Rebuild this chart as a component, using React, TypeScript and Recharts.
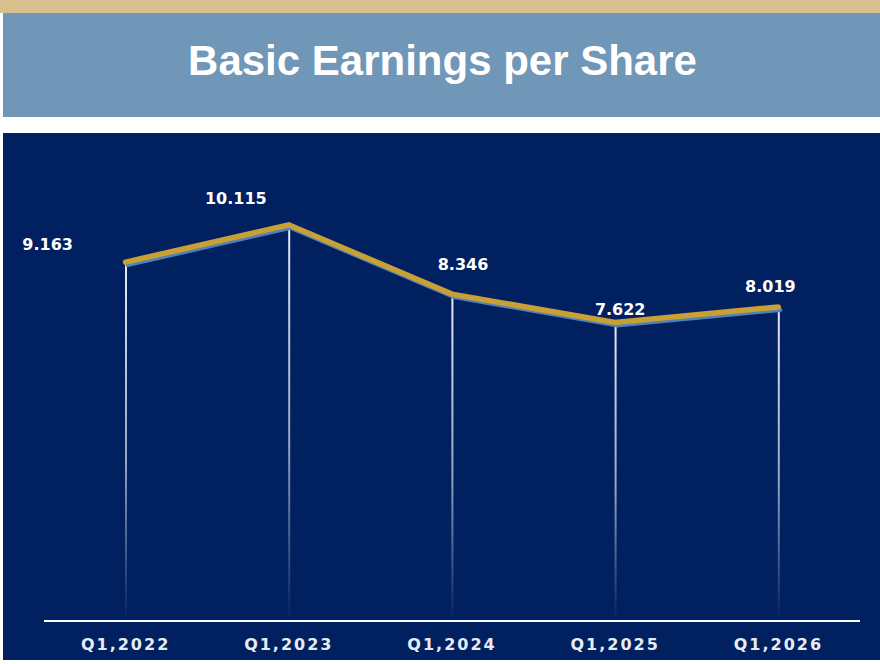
import { Bar, ComposedChart, LabelList, Line, XAxis, YAxis } from "recharts";

// EPS by first quarter
const QUARTERS = ["Q1,2022", "Q1,2023", "Q1,2024", "Q1,2025", "Q1,2026"];
const EPS = [9.163, 10.115, 8.346, 7.622, 8.019];

const data = QUARTERS.map((q, i) => ({ quarter: q, eps: EPS[i] }));

// label nudges relative to each point (the slide places them by hand)
const LABEL_NUDGE = [
  [-78, -18],
  [-53, -26],
  [11, -30],
  [5, -13],
  [-8, -20],
];

const NAVY = "#002060";
const GOLD = "#C9A033";
const BLUE = "#4F81BD";

function PointLabel(props: any) {
  const { x, y, index, value } = props;
  const [dx, dy] = LABEL_NUDGE[index] ?? [0, -16];
  return (
    <text
      x={x + dx}
      y={y + dy}
      textAnchor="middle"
      dominantBaseline="central"
      fill="#FFFFFF"
      fontFamily="'DejaVu Sans', Verdana, sans-serif"
      fontWeight="bold"
      fontSize={16}
    >
      {Number(value).toFixed(3)}
    </text>
  );
}

export default function App() {
  return (
    <div style={{ position: "relative", width: 880, height: 664, background: "#fff" }}>
      <style>{`body{margin:0} .eps-shadow .recharts-curve{transform:translate(2px,3px)}`}</style>
      <div style={{ position: "absolute", left: 0, top: 0, width: 880, height: 13, background: "#D7C08D" }} />
      <div
        style={{
          position: "absolute",
          left: 3,
          top: 13,
          width: 877,
          height: 104,
          background: "#7096B8",
          display: "flex",
          alignItems: "center",
          justifyContent: "center",
          color: "#fff",
          fontFamily: "'Liberation Sans', Arial, sans-serif",
          fontWeight: "bold",
          fontSize: 42,
          paddingBottom: 8,
          paddingLeft: 2,
          boxSizing: "border-box",
        }}
      >
        Basic Earnings per Share
      </div>
      <div style={{ position: "absolute", left: 3, top: 133, width: 877, height: 527, background: NAVY }}>
        <ComposedChart
          width={877}
          height={527}
          data={data}
          margin={{ top: 18, right: 20, bottom: 9, left: 41 }}
        >
          <defs>
            <linearGradient id="drop" x1="0" y1="0" x2="0" y2="1">
              <stop offset="0%" stopColor="#E8ECF4" stopOpacity={1} />
              <stop offset="55%" stopColor="#C8D2E6" stopOpacity={0.75} />
              <stop offset="100%" stopColor="#C8D2E6" stopOpacity={0} />
            </linearGradient>
          </defs>
          <XAxis
            dataKey="quarter"
            height={30}
            axisLine={{ stroke: "#FFFFFF", strokeWidth: 2 }}
            tickLine={false}
            tickMargin={12}
            tick={{
              fill: "#E8ECF2",
              fontSize: 16,
              fontWeight: "bold",
              fontFamily: "'DejaVu Sans', Verdana, sans-serif",
              letterSpacing: 2,
            }}
          />
          <YAxis hide domain={[0, 12]} />
          <Bar dataKey="eps" barSize={2} fill="url(#drop)" isAnimationActive={false} />
          <Line
            dataKey="eps"
            className="eps-shadow"
            stroke={BLUE}
            strokeWidth={4}
            dot={false}
            activeDot={false}
            strokeLinecap="round"
            isAnimationActive={false}
          />
          <Line
            dataKey="eps"
            stroke={GOLD}
            strokeWidth={5.5}
            dot={false}
            activeDot={false}
            strokeLinecap="round"
            isAnimationActive={false}
          >
            <LabelList dataKey="eps" content={<PointLabel />} />
          </Line>
        </ComposedChart>
      </div>
    </div>
  );
}
